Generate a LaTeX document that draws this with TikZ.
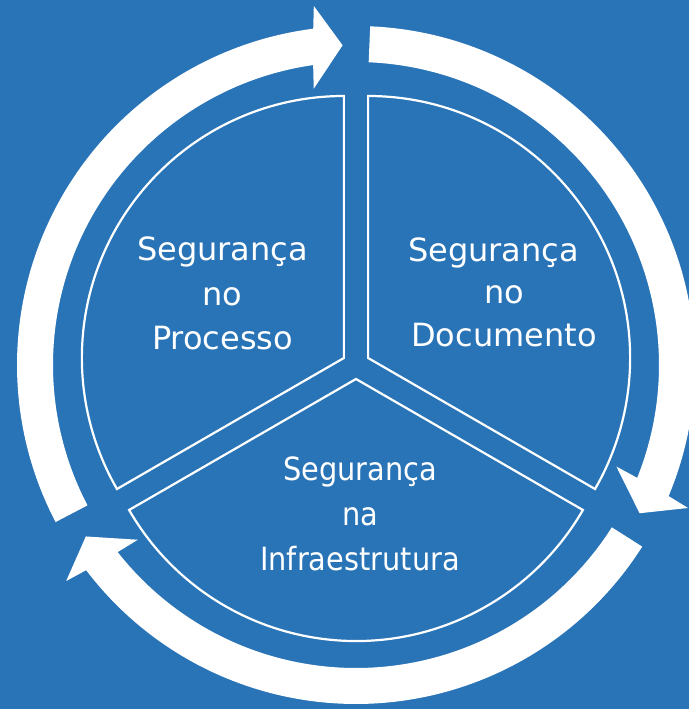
\documentclass[tikz,border=0pt]{standalone}
\usepackage{fontspec}
\setmainfont{DejaVu Sans}
\newfontfamily\condfont{DejaVu Sans}[FakeStretch=0.9]
\definecolor{bgblue}{RGB}{41,116,183}
\newcommand\cycarrow[1]{%
  \pgfmathsetmacro\cyT{#1-115.2}%
  \pgfmathsetmacro\cyEO{\cyT+4.85}%
  \pgfmathsetmacro\cyVO{\cyT+4.3}%
  \pgfmathsetmacro\cyVI{\cyT+6.3}%
  \pgfmathsetmacro\cyEI{\cyT+5.73}%
  \fill[ringarrow] (#1:339pt) arc[start angle=#1, end angle=\cyEO, radius=339pt]
    -- (\cyVO:361.5pt) -- (\cyT:320pt) -- (\cyVI:279.5pt) -- (\cyEI:303pt)
    arc[start angle=\cyEI, end angle=#1, radius=303pt] -- cycle;}
\begin{document}
\begin{tikzpicture}[x=1pt,y=1pt,
  sector/.style={draw=white, line width=2.2pt},
  ringarrow/.style={fill=white},
  lbl/.style={text=white, font=\fontsize{32}{38}\selectfont, anchor=base, inner sep=0pt},
  lblc/.style={lbl, font=\condfont\fontsize{32}{38}\selectfont}]
\useasboundingbox (-356,-344) rectangle (333,365);
\clip (-356,-344) rectangle (333,365);
\fill[bgblue] (-356,-344) rectangle (333,365);

% sectors
\draw[sector] (150:14pt) coordinate (cP) -- ++(90:262pt)
  arc[start angle=90, end angle=210, radius=262pt] -- cycle;
\draw[sector] (30:14pt) coordinate (cD) -- ++(90:262pt)
  arc[start angle=90, end angle=-30, radius=262pt] -- cycle;
\draw[sector] (270:14pt) coordinate (cI) -- ++(210:262pt)
  arc[start angle=210, end angle=330, radius=262pt] -- cycle;

% cycle arrows
\cycarrow{87.6}
\cycarrow{-32.4}
\cycarrow{207.6}

% labels
\node[lbl] (p1) at (-133.5,104) {Segurança};
\node[lbl] (p2) at (-133.5,59) {no};
\node[lbl] (p3) at (-133.5,15) {Processo};
\node[lbl] (d1) at (137.5,103) {Segurança};
\node[lbl] (d2) at (148,61) {no};
\node[lbl] (d3) at (148,18) {Documento};
\node[lblc] (i1) at (4,-115) {Segurança};
\node[lblc] (i2) at (4,-160) {na};
\node[lblc] (i3) at (4,-205.6) {Infraestrutura};
\end{tikzpicture}
\end{document}
